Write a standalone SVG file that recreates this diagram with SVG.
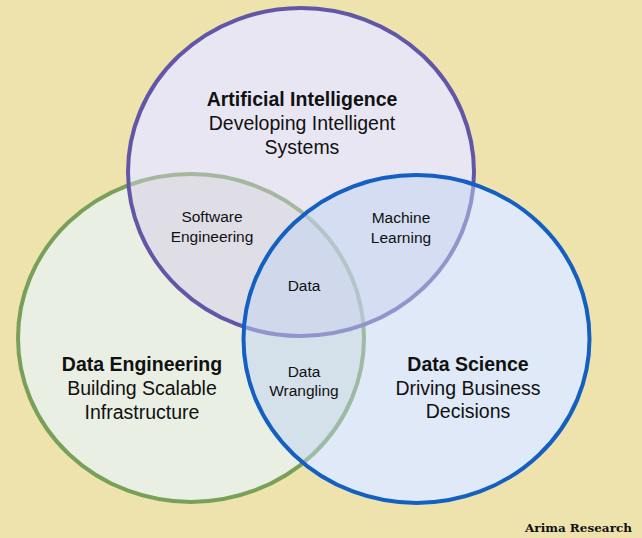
<svg xmlns="http://www.w3.org/2000/svg" width="642" height="538" viewBox="0 0 642 538">
<style>
.bg{fill:#efe3ad}
.base{fill:#ffffff}
.c{stroke-width:4}
.t{font-family:"Liberation Sans",Arial,sans-serif;fill:#111;text-anchor:middle}
.h{font-weight:bold;font-size:19.5px}
.s{font-size:19.5px}
.m{font-size:15.5px}
</style>
<rect class="bg" x="0" y="0" width="642" height="538"/>
<g id="base">
<ellipse class="base" cx="191" cy="338" rx="173" ry="164"/>
<ellipse class="base" cx="301" cy="172" rx="173" ry="164"/>
<ellipse class="base" cx="416.5" cy="339" rx="173" ry="164"/>
</g>
<g id="data-engineering">
<ellipse class="c" cx="191" cy="338" rx="173" ry="164" fill="#d5dfc9" fill-opacity="0.5" stroke="#79a059"/>
</g>
<g id="artificial-intelligence">
<ellipse class="c" cx="301" cy="172" rx="173" ry="164" fill="#d3cde7" fill-opacity="0.5" stroke="#6257a6"/>
</g>
<g id="data-science">
<ellipse class="c" cx="416.5" cy="339" rx="173" ry="164" fill="#bfd3ef" fill-opacity="0.5" stroke="#135fc2"/>
</g>
<g id="labels">
<text class="t h" x="302" y="106">Artificial Intelligence</text>
<text class="t s" x="302" y="130">Developing Intelligent</text>
<text class="t s" x="302" y="153.5">Systems</text>
<text class="t h" x="142" y="371">Data Engineering</text>
<text class="t s" x="142" y="395">Building Scalable</text>
<text class="t s" x="142" y="418.5">Infrastructure</text>
<text class="t h" x="468" y="370.5">Data Science</text>
<text class="t s" x="468" y="394.5">Driving Business</text>
<text class="t s" x="468" y="418">Decisions</text>
<text class="t m" x="212" y="222">Software</text>
<text class="t m" x="212" y="242">Engineering</text>
<text class="t m" x="401" y="223">Machine</text>
<text class="t m" x="401" y="243">Learning</text>
<text class="t m" x="304" y="291">Data</text>
<text class="t m" x="304" y="377">Data</text>
<text class="t m" x="304" y="396">Wrangling</text>
<text x="525" y="532" font-family="'DejaVu Serif','Liberation Serif',serif" font-weight="bold" font-size="11" fill="#111" textLength="107" lengthAdjust="spacingAndGlyphs">Arima Research</text>
</g>
</svg>
